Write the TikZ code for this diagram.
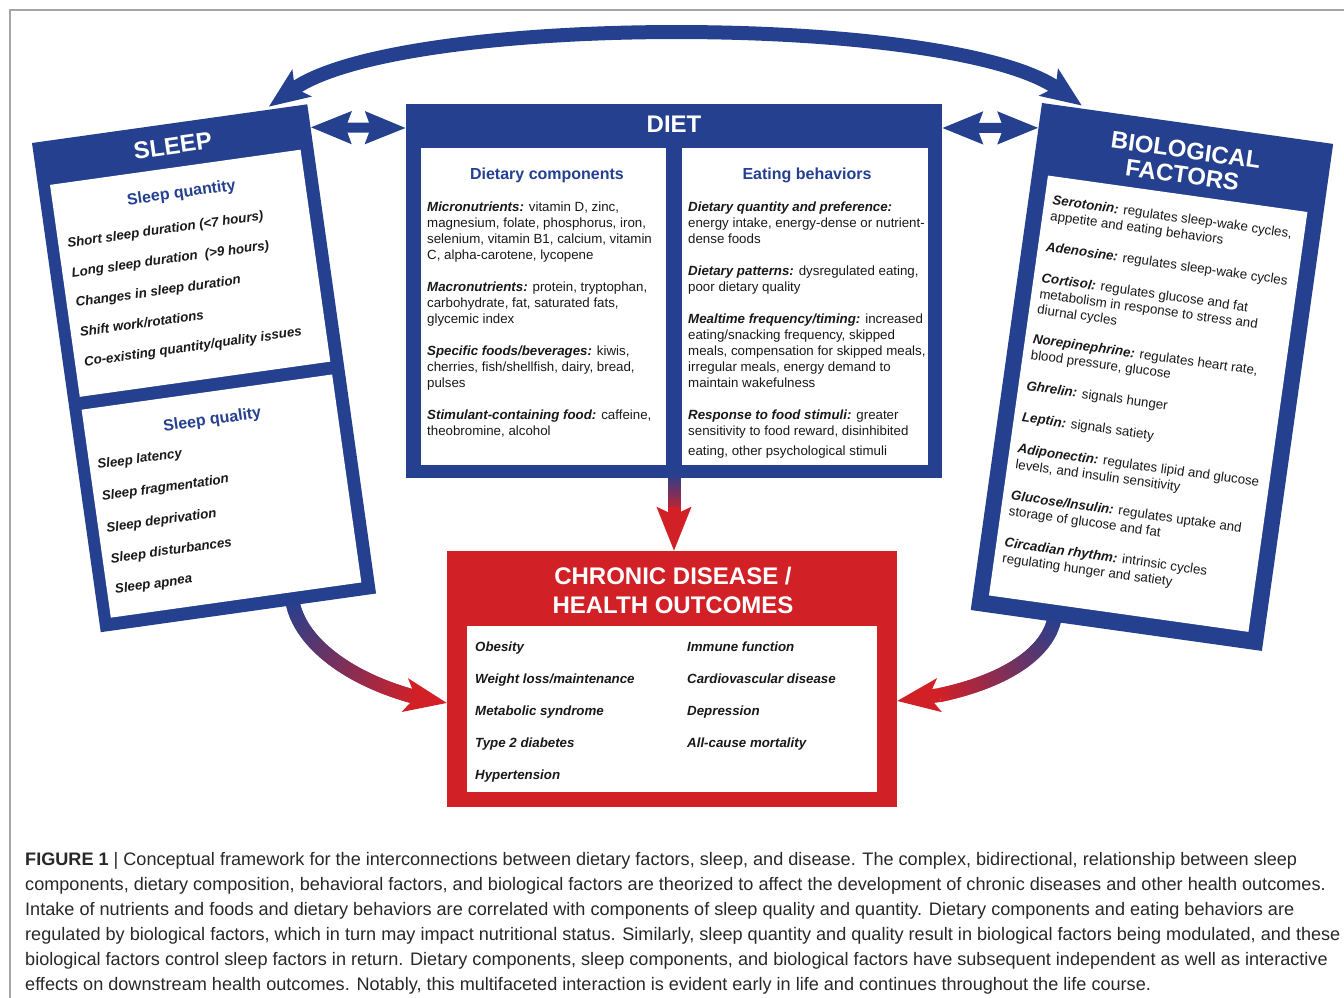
\documentclass[tikz,border=0pt]{standalone}
\usepackage{fontspec}
\setmainfont{Liberation Sans}
\usetikzlibrary{arrows.meta,calc,decorations.markings}
\definecolor{dblue}{RGB}{36,64,143}
\definecolor{dred}{RGB}{210,32,39}
\definecolor{txt}{RGB}{25,25,25}
\definecolor{capcol}{RGB}{40,40,40}
\definecolor{framegray}{RGB}{165,165,165}
\newcommand{\bi}[1]{\textbf{\textit{#1}}}
\newcommand{\lns}[1]{\begin{tabular}[t]{@{}l@{}}#1\end{tabular}}
\tikzset{
  gradline/.style={decorate, decoration={markings,
    mark=between positions 0 and 1 step 0.5pt with {%
      \pgfmathtruncatemacro{\gp}{min(100,(\pgfkeysvalueof{/pgf/decoration/mark info/distance from start}/\pgfdecoratedpathlength)*100)}%
      \fill[dred!\gp!dblue] (-0.5pt,-#1) rectangle (0.5pt,#1);}}},
  bluebox/.style={fill=dblue, inner sep=0pt, outer sep=0pt},
  whitebox/.style={fill=white, inner sep=0pt, outer sep=0pt},
  redbox/.style={fill=dred, inner sep=0pt, outer sep=0pt},
  headtxt/.style={font=\bfseries\fontsize{24}{29}\selectfont, text=white, inner sep=0pt, anchor=base},
  subhead/.style={font=\bfseries\fontsize{16}{19}\selectfont, text=dblue, inner sep=0pt, anchor=base},
  body/.style={font=\fontsize{13.3}{16}\selectfont, text=txt, inner sep=0pt, anchor=base west},
  biobody/.style={font=\fontsize{13.3}{15.8}\selectfont, text=txt, inner sep=0pt, anchor=base west},
  item/.style={font=\bfseries\itshape\fontsize{13.3}{16}\selectfont, text=txt, inner sep=0pt, anchor=base west},
  captxt/.style={font=\fontsize{18.1}{25}\selectfont, text=capcol, inner sep=0pt, anchor=base west},
  arcarrow/.style={dblue, line width=14pt, {Stealth[length=40pt,width=32pt,inset=8pt]}-{Stealth[length=40pt,width=32pt,inset=8pt]}},
  dblarrow/.style={dblue, line width=10pt, {Stealth[length=40pt,width=31pt,inset=5pt]}-{Stealth[length=40pt,width=31pt,inset=5pt]}},
  redhead/.style={dred, line width=14pt, -{Stealth[length=42pt,width=33pt,inset=10pt]}},
  downhead/.style={dred, line width=13pt, -{Stealth[length=43pt,width=33pt,inset=7pt]}},
}
\begin{document}
\begin{tikzpicture}[x=1pt,y=-1pt]
\useasboundingbox (0,0) rectangle (1344,998);
\fill[white] (0,0) rectangle (1344,998);
\draw[framegray, line width=1.3pt] (10,998) -- (10,10) -- (1344,10);

% ---------------- SLEEP ----------------
\begin{scope}[shift={(32,143)}, rotate=8, every node/.append style={transform shape}]
  \node[bluebox, anchor=north west, minimum width=278pt, minimum height=494pt] (sleep) at (0,0) {};
  \node[whitebox, anchor=north west, minimum width=253pt, minimum height=214pt] (sqbox) at (12,44) {};
  \node[whitebox, anchor=north west, minimum width=253pt, minimum height=210pt] (slbox) at (12,271) {};
  \node[headtxt] (sleeptitle) at (139,30.5) {SLEEP};
  \node[subhead] (sqtitle) at (141,75) {Sleep quantity};
  \node[item] (sq1) at (21,108.5) {Short sleep duration (<7 hours)};
  \node[item] (sq2) at (21,138.5) {Long sleep duration\ \ (>9 hours)};
  \node[item] (sq3) at (21,168.5) {Changes in sleep duration};
  \node[item] (sq4) at (21,198.5) {Shift work/rotations};
  \node[item] (sq5) at (21,228.5) {Co-existing quantity/quality issues};
  \node[subhead] (sltitle) at (140,304) {Sleep quality};
  \node[item] (sl1) at (20,332) {Sleep latency};
  \node[item] (sl2) at (20,364) {Sleep fragmentation};
  \node[item] (sl3) at (20,396) {Sleep deprivation};
  \node[item] (sl4) at (20,427) {Sleep disturbances};
  \node[item] (sl5) at (20,458) {Sleep apnea};
\end{scope}

% ---------------- BIOLOGICAL FACTORS ----------------
\begin{scope}[shift={(1042,103)}, rotate=-8, every node/.append style={transform shape}]
  \node[bluebox, anchor=north west, minimum width=294pt, minimum height=512pt] (bio) at (0,0) {};
  \node[whitebox, anchor=north west, minimum width=262pt, minimum height=424pt] (biobox) at (16,71) {};
  \node[headtxt] (biot1) at (149,35) {BIOLOGICAL};
  \node[headtxt] (biot2) at (149,60) {FACTORS};
  \node[biobody] (biotext) at (24,99) {\lns{%
    \bi{Serotonin:} regulates sleep-wake cycles,\\
    appetite and eating behaviors\\[15.8pt]
    \bi{Adenosine:} regulates sleep-wake cycles\\[15.8pt]
    \bi{Cortisol:} regulates glucose and fat\\
    metabolism in response to stress and\\
    diurnal cycles\\[14pt]
    \bi{Norepinephrine:} regulates heart rate,\\
    blood pressure, glucose\\[15.8pt]
    \bi{Ghrelin:} signals hunger\\[15.8pt]
    \bi{Leptin:} signals satiety\\[15.8pt]
    \bi{Adiponectin:} regulates lipid and glucose\\
    levels, and insulin sensitivity\\[15.8pt]
    \bi{Glucose/Insulin:} regulates uptake and\\
    storage of glucose and fat\\[15.8pt]
    \bi{Circadian rhythm:} intrinsic cycles\\
    regulating hunger and satiety}};
\end{scope}

% ---------------- DIET ----------------
\node[bluebox, minimum width=536pt, minimum height=374pt] (diet) at (674,291) {};
\node[whitebox, anchor=north west, minimum width=245pt, minimum height=317pt] (dcbox) at (421,148) {};
\node[whitebox, anchor=north west, minimum width=246pt, minimum height=317pt] (ebbox) at (682,148) {};
\node[headtxt] (diettitle) at (674,132.5) {DIET};
\node[subhead] (dctitle) at (547,179) {Dietary components};
\node[subhead] (ebtitle) at (807,179) {Eating behaviors};
\node[body] (dctext) at (427,211) {\lns{%
  \bi{Micronutrients:} vitamin D, zinc,\\
  magnesium, folate, phosphorus, iron,\\
  selenium, vitamin B1, calcium, vitamin\\
  C, alpha-carotene, lycopene\\[16pt]
  \bi{Macronutrients:} protein, tryptophan,\\
  carbohydrate, fat, saturated fats,\\
  glycemic index\\[16pt]
  \bi{Specific foods/beverages:} kiwis,\\
  cherries, fish/shellfish, dairy, bread,\\
  pulses\\[16pt]
  \bi{Stimulant-containing food:} caffeine,\\
  theobromine, alcohol}};
\node[body] (ebtext) at (688,211) {\lns{%
  \bi{Dietary quantity and preference:}\\
  energy intake, energy-dense or nutrient-\\
  dense foods\\[16pt]
  \bi{Dietary patterns:} dysregulated eating,\\
  poor dietary quality\\[16pt]
  \bi{Mealtime frequency/timing:} increased\\
  eating/snacking frequency, skipped\\
  meals, compensation for skipped meals,\\
  irregular meals, energy demand to\\
  maintain wakefulness\\[16pt]
  \bi{Response to food stimuli:} greater\\
  sensitivity to food reward, disinhibited\\[4pt]
  eating, other psychological stimuli}};

% ---------------- CHRONIC DISEASE ----------------
\node[redbox, minimum width=450pt, minimum height=256pt] (chronic) at (672,679) {};
\node[whitebox, anchor=north west, minimum width=410pt, minimum height=166pt] (chbox) at (467,626) {};
\node[headtxt] (cht1) at (673,584) {CHRONIC DISEASE /};
\node[headtxt] (cht2) at (673,613) {HEALTH OUTCOMES};
\node[item] (ch1) at (475,651) {Obesity};
\node[item] (ch2) at (475,683) {Weight loss/maintenance};
\node[item] (ch3) at (475,715) {Metabolic syndrome};
\node[item] (ch4) at (475,747) {Type 2 diabetes};
\node[item] (ch5) at (475,779) {Hypertension};
\node[item] (ch6) at (687,651) {Immune function};
\node[item] (ch7) at (687,683) {Cardiovascular disease};
\node[item] (ch8) at (687,715) {Depression};
\node[item] (ch9) at (687,747) {All-cause mortality};

% ---------------- CONNECTORS ----------------
\coordinate (arcL) at ($(sleep.north west)!0.86!(sleep.north east)+(0,-3)$);
\coordinate (arcR) at ($(bio.north west)!0.137!(bio.north east)+(0,-3)$);
\draw[arcarrow] (arcL) .. controls (400,13) and (950,13) .. (arcR);

\coordinate (sdL) at ($(sleep.north east)!0.047!(sleep.south east)$);
\coordinate (sdR) at ($(diet.north west)+(0,24)$);
\draw[dblarrow] (sdL) -- (sdR);
\coordinate (bdL) at ($(diet.north east)+(0,24)$);
\coordinate (bdR) at ($(bio.north west)!0.049!(bio.south west)$);
\draw[dblarrow] (bdL) -- (bdR);

\coordinate (dA) at ($(diet.south)+(0,-4)$);
\coordinate (dN) at ($(diet.south)+(0,35)$);
\coordinate (dT) at (diet.south |- chronic.north);
\path[gradline=6.5pt] (dA) -- (dN);
\draw[downhead] ($(dN)+(0,-6)$) -- (dT);

\coordinate (lS) at ($(sleep.south)!0.39!(sleep.south east)+(0,-6)$);
\coordinate (lN) at (415,697);
\coordinate (lT) at ($(chronic.west)+(0,24)$);
\path[gradline=7pt] (lS) .. controls (298,640) and (345,678) .. (lN);
\draw[redhead] (lN) -- (lT);

\coordinate (rS) at ($(bio.south west)!0.289!(bio.south east)+(0,-6)$);
\coordinate (rN) at (940,695);
\coordinate (rT) at ($(chronic.east)+(0,22)$);
\path[gradline=7pt] (rS) .. controls (1050,650) and (1010,680) .. (rN);
\draw[redhead] (rN) -- (rT);

% ---------------- CAPTION ----------------
\node[captxt] (caption) at (25,865) {\lns{%
  \textbf{FIGURE 1} | Conceptual framework for the interconnections between dietary factors, sleep, and disease. The complex, bidirectional, relationship between sleep\\
  components, dietary composition, behavioral factors, and biological factors are theorized to affect the development of chronic diseases and other health outcomes.\\
  Intake of nutrients and foods and dietary behaviors are correlated with components of sleep quality and quantity. Dietary components and eating behaviors are\\
  regulated by biological factors, which in turn may impact nutritional status. Similarly, sleep quantity and quality result in biological factors being modulated, and these\\
  biological factors control sleep factors in return. Dietary components, sleep components, and biological factors have subsequent independent as well as interactive\\
  effects on downstream health outcomes. Notably, this multifaceted interaction is evident early in life and continues throughout the life course.}};
\end{tikzpicture}
\end{document}
